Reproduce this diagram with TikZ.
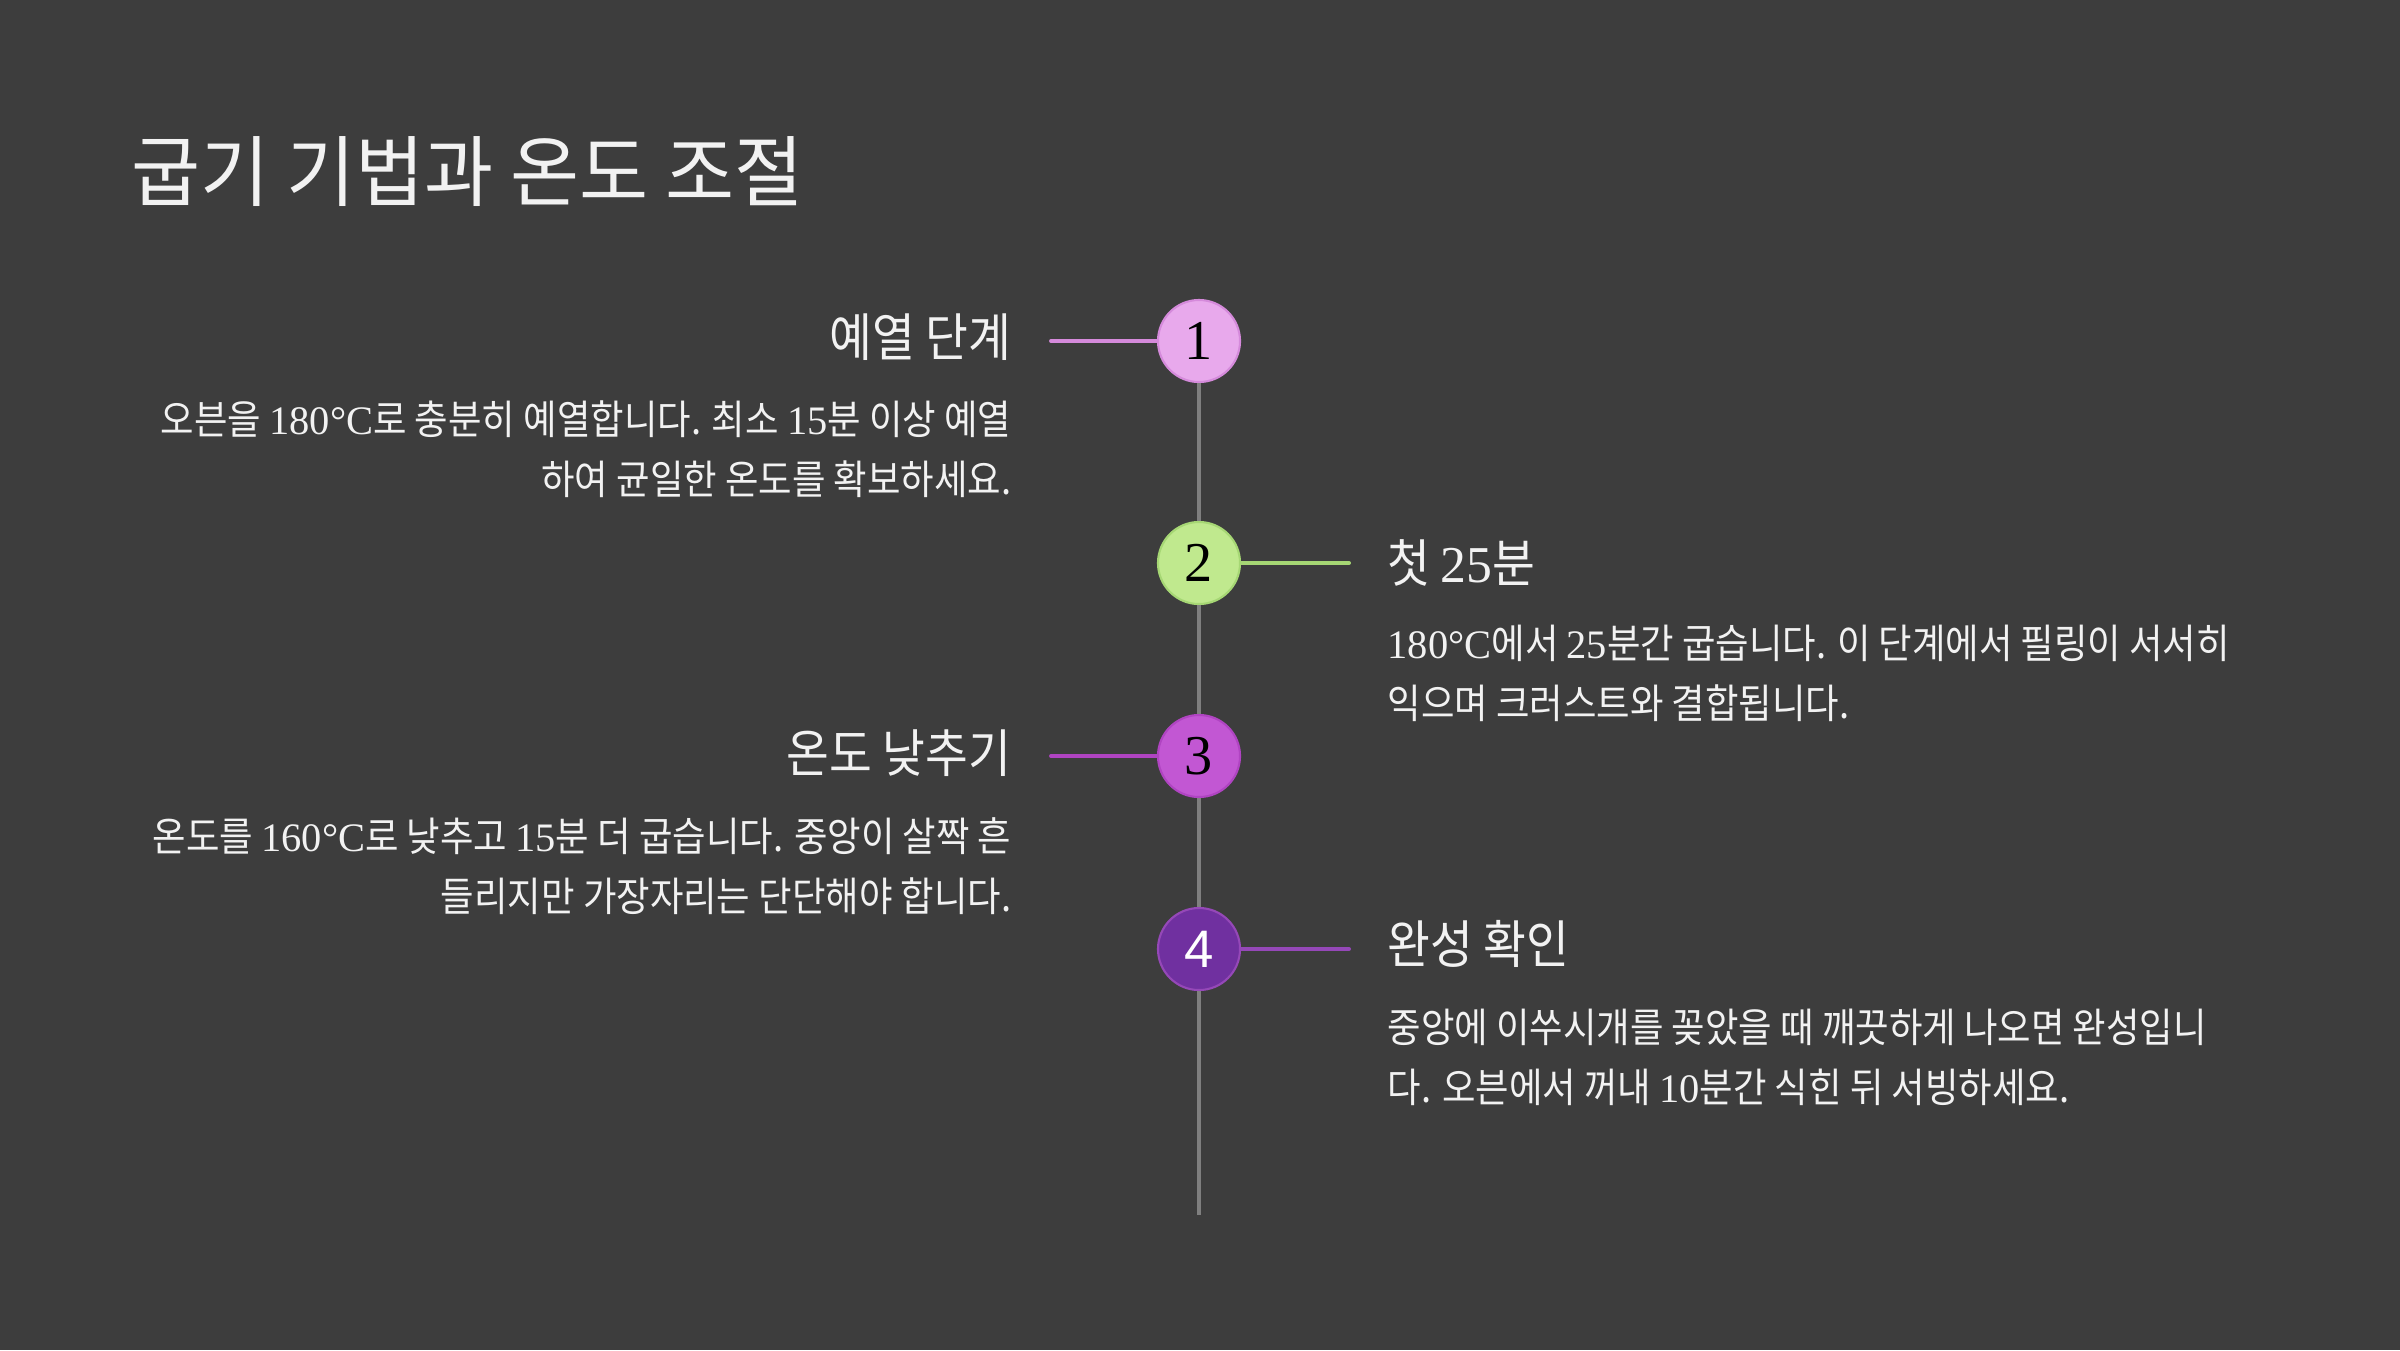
\documentclass[tikz,border=0pt]{standalone}
\usepackage{fontspec}
\setmainfont{Liberation Serif}
\newfontfamily\titlefont[FakeStretch=0.97]{Noto Sans CJK KR}
\newfontfamily\krfont[FakeStretch=0.9]{Noto Sans CJK KR}
\newfontfamily\numfont{Liberation Serif}
\newfontfamily\badgefont{Liberation Sans}
\usetikzlibrary{positioning}

\definecolor{bgdark}{HTML}{3D3D3D}
\definecolor{txtwhite}{HTML}{F2F2F2}
\definecolor{linegray}{HTML}{7F7F7F}
\definecolor{pinkfill}{HTML}{E8A9EC}
\definecolor{pinkline}{HTML}{D58ADB}
\definecolor{greenfill}{HTML}{C0E98E}
\definecolor{greenline}{HTML}{A6D774}
\definecolor{violetfill}{HTML}{C257D3}
\definecolor{violetline}{HTML}{B044C2}
\definecolor{plumfill}{HTML}{7030A0}
\definecolor{plumline}{HTML}{9548B8}

\tikzset{
  badge/.style={circle, minimum size=0.82cm, inner sep=0, line width=0.6pt,
    font=\numfont\fontsize{16}{16}\selectfont},
  badge 1/.style={badge, fill=pinkfill, draw=pinkline},
  badge 2/.style={badge, fill=greenfill, draw=greenline},
  badge 3/.style={badge, fill=violetfill, draw=violetline},
  badge 4/.style={badge, fill=plumfill, draw=plumline, text=white,
    font=\badgefont\fontsize{15}{15}\selectfont},
  heading/.style={text=txtwhite, inner sep=0, font=\krfont\fontsize{14.7}{17}\selectfont},
  bodytext/.style={text=txtwhite, inner sep=0, font=\krfont\fontsize{11.5}{17.07}\selectfont},
  timeline/.style={linegray, line width=0.9pt},
  link/.style={line width=1.1pt, line cap=round}
}

\begin{document}
\begin{tikzpicture}[x=0.01cm, y=-0.01cm]

  % Background
  \fill[bgdark] (0,0) rectangle (2400,1350);

  % Title
  \node[anchor=west, text=txtwhite, inner sep=0,
    font=\titlefont\fontsize{22}{24}\selectfont] (title) at (131,172) {굽기 기법과 온도 조절};

  % Badges
  \node[badge 1] (c1) at (1199,341) {1};
  \node[badge 2] (c2) at (1199,563) {2};
  \node[badge 3] (c3) at (1199,756) {3};
  \node[badge 4] (c4) at (1199,949) {4};
  \coordinate (tend) at (1199,1215);

  % Timeline
  \draw[timeline] (c1.south) -- (c2.north);
  \draw[timeline] (c2.south) -- (c3.north);
  \draw[timeline] (c3.south) -- (c4.north);
  \draw[timeline] (c4.south) -- (tend);

  % Links
  \coordinate (l1) at (1051,341);
  \coordinate (l2) at (1349,563);
  \coordinate (l3) at (1051,756);
  \coordinate (l4) at (1349,949);
  \draw[link, pinkline] (l1) -- (c1.west);
  \draw[link, greenline] (c2.east) -- (l2);
  \draw[link, violetline] (l3) -- (c3.west);
  \draw[link, plumline] (c4.east) -- (l4);

  % Step 1
  \node[heading, anchor=east] (h1) at (1012,337) {예열 단계};
  \node[bodytext, anchor=east, align=right] (b1) at (1012,449)
    {오븐을 {\numfont 180°C}로 충분히 예열합니다. 최소 {\numfont 15}분 이상 예열\\
     하여 균일한 온도를 확보하세요.};

  % Step 2
  \node[heading, anchor=west] (h2) at (1387,563) {첫 {\numfont 25}분};
  \node[bodytext, anchor=west, align=left] (b2) at (1387,673)
    {{\numfont 180°C}에서 {\numfont 25}분간 굽습니다. 이 단계에서 필링이 서서히\\
     익으며 크러스트와 결합됩니다.};

  % Step 3
  \node[heading, anchor=east] (h3) at (1012,753) {온도 낮추기};
  \node[bodytext, anchor=east, align=right] (b3) at (1012,866)
    {온도를 {\numfont 160°C}로 낮추고 {\numfont 15}분 더 굽습니다. 중앙이 살짝 흔\\
     들리지만 가장자리는 단단해야 합니다.};

  % Step 4
  \node[heading, anchor=west] (h4) at (1387,944) {완성 확인};
  \node[bodytext, anchor=west, align=left] (b4) at (1387,1057)
    {중앙에 이쑤시개를 꽂았을 때 깨끗하게 나오면 완성입니\\
     다. 오븐에서 꺼내 {\numfont 10}분간 식힌 뒤 서빙하세요.};

\end{tikzpicture}
\end{document}
